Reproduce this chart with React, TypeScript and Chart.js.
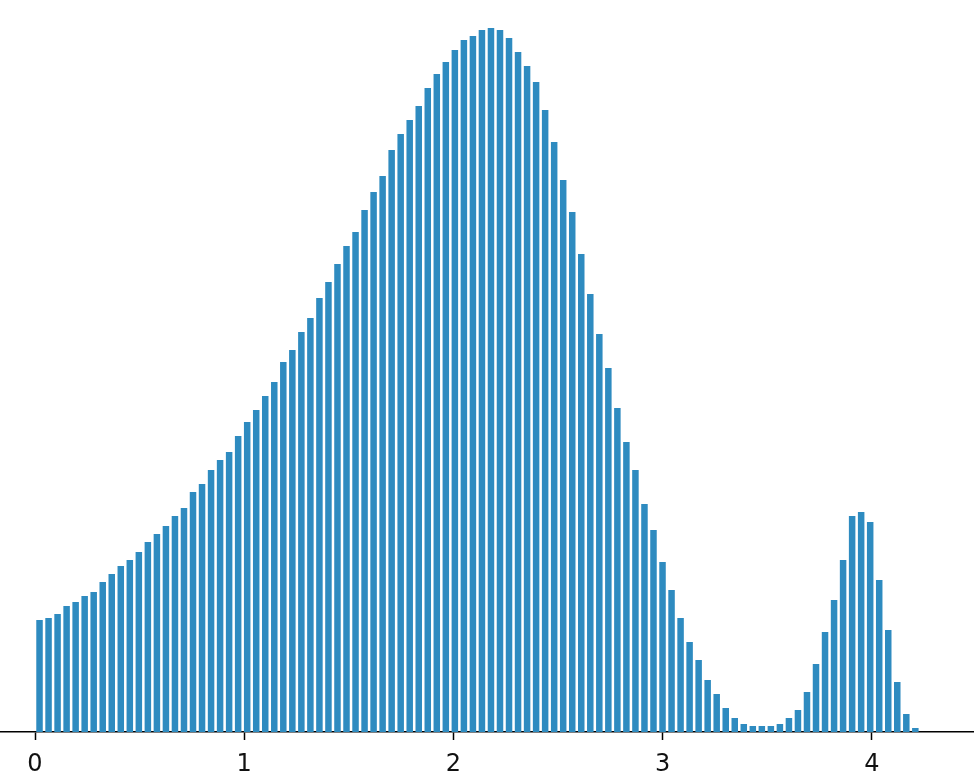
import React, { useEffect, useRef } from "react";
import { Chart, registerables } from "chart.js";

Chart.register(...registerables);

// Histogram bins: start and width of each bin (x units)
const BIN_START = 0;
const BIN_WIDTH = 0.04315;

// Bar heights (counts, arbitrary units)
const COUNTS = [
  112, 114, 118, 126, 130, 136, 140, 150, 158, 166,
  172, 180, 190, 198, 206, 216, 224, 240, 248, 262,
  272, 280, 296, 310, 322, 336, 350, 370, 382, 400,
  414, 434, 450, 468, 486, 500, 522, 540, 556, 582,
  598, 612, 626, 644, 658, 670, 682, 692, 696, 702,
  704, 702, 694, 680, 666, 650, 622, 590, 552, 520,
  478, 438, 398, 364, 324, 290, 262, 228, 202, 170,
  142, 114, 90, 72, 52, 38, 24, 14, 8, 6,
  6, 6, 8, 14, 22, 40, 68, 100, 132, 172,
  216, 220, 210, 152, 102, 50, 18, 4,
];

const X_TICKS = [0, 1, 2, 3, 4];
const X_MIN = -0.1673;
const X_MAX = 4.4875;
const Y_MAX = 732;

export default function App() {
  const ref = useRef<HTMLCanvasElement>(null);

  useEffect(() => {
    document.body.style.margin = "0";
    const data = COUNTS.map((c, i) => ({ x: BIN_START + (i + 0.5) * BIN_WIDTH, y: c }));
    const chart = new Chart(ref.current!, {
      type: "bar",
      data: {
        datasets: [
          {
            data: data as any,
            backgroundColor: "#2e8bc0",
            borderWidth: 0,
            barPercentage: 0.72,
            categoryPercentage: 1,
          },
        ],
      },
      options: {
        responsive: false,
        maintainAspectRatio: false,
        animation: false,
        layout: { padding: 0 },
        plugins: { legend: { display: false }, tooltip: { enabled: false } },
        scales: {
          x: {
            type: "linear",
            min: X_MIN,
            max: X_MAX,
            offset: false,
            afterBuildTicks: (s: any) => {
              s.ticks = X_TICKS.map((v) => ({ value: v }));
            },
            afterFit: (s: any) => {
              s.height = 52;
            },
            grid: {
              display: true,
              offset: false,
              drawOnChartArea: false,
              drawTicks: true,
              tickLength: 8,
              tickWidth: 1.5,
              tickColor: "#000",
            },
            border: { display: true, color: "#000", width: 1.6 },
            ticks: {
              font: { family: "DejaVu Sans", size: 24 },
              color: "#111",
              padding: 10,
              maxRotation: 0,
              autoSkip: false,
              callback: (v: any) => String(v),
            },
          },
          y: { display: false, min: 0, max: Y_MAX },
        },
      },
    });
    return () => chart.destroy();
  }, []);

  return (
    <div style={{ position: "absolute", left: 0, top: 0, width: 974, height: 784 }}>
      <canvas ref={ref} width={974} height={784} style={{ width: 974, height: 784, display: "block" }} />
    </div>
  );
}
